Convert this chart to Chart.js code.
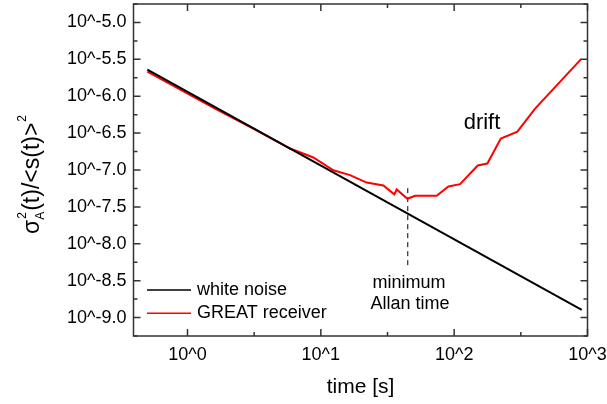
<!DOCTYPE html>
<html>
<head>
<meta charset="utf-8">
<script src="https://cdn.jsdelivr.net/npm/chart.js@4/dist/chart.umd.min.js"></script>
<style>
  html, body { margin: 0; background: #fff; }
</style>
</head>
<body>
<canvas id="chart" width="607" height="404"></canvas>
<script>
// log10(time / s) and log10(sigma_A^2 / <s>^2)
const noiseLogT = [-0.301, 2.957];
const noiseLogY = [-5.640, -8.897];

const greatLogT = [-0.301, 0.2, 0.5, 0.769, 0.944, 1.094, 1.219, 1.344, 1.469, 1.551, 1.569, 1.649, 1.707, 1.869, 1.957, 2.044, 2.177, 2.249, 2.350, 2.474, 2.607, 2.952];
const greatLogY = [-5.665, -6.160, -6.445, -6.709, -6.830, -7.003, -7.070, -7.170, -7.210, -7.330, -7.264, -7.390, -7.350, -7.350, -7.223, -7.192, -6.939, -6.912, -6.574, -6.479, -6.168, -5.497];

// minimum Allan time marker
const minLogT = [1.652, 1.652];
const minLogY = [-7.246, -8.329];

const xTicks = [0, 1, 2, 3];
const xMinor = [0.5, 1.5, 2.5];
const yTicks = [-9.0, -8.5, -8.0, -7.5, -7.0, -6.5, -6.0, -5.5, -5.0];
const yMinor = [-9.25, -8.75, -8.25, -7.75, -7.25, -6.75, -6.25, -5.75, -5.25, -4.75];

const pts = (xs, ys) => xs.map((v, i) => ({ x: v, y: ys[i] }));
const FONT = 'Liberation Sans, Arial, sans-serif';

const frame = {
    id: 'frame',
    afterDraw(chart) {
        const { ctx, chartArea: a, scales: { x, y } } = chart;
        ctx.save();
        ctx.strokeStyle = '#333';
        ctx.lineWidth = 1.5;
        ctx.strokeRect(a.left, a.top, a.right - a.left, a.bottom - a.top);
        ctx.beginPath();
        const xt = (v, len) => {
            const px = x.getPixelForValue(v);
            ctx.moveTo(px, a.bottom); ctx.lineTo(px, a.bottom - len);
            ctx.moveTo(px, a.top); ctx.lineTo(px, a.top + len);
        };
        const yt = (v, len) => {
            const py = y.getPixelForValue(v);
            ctx.moveTo(a.left, py); ctx.lineTo(a.left + len, py);
            ctx.moveTo(a.right, py); ctx.lineTo(a.right - len, py);
        };
        xTicks.forEach(v => xt(v, 7));
        xMinor.forEach(v => xt(v, 4));
        yTicks.forEach(v => yt(v, 7));
        yMinor.forEach(v => yt(v, 4));
        ctx.stroke();

        // legend
        const legend = chart.data.datasets.filter(d => d.label);
        legend.forEach((d, i) => {
            const ly = 290 + i * 23.3;
            ctx.strokeStyle = d.borderColor; ctx.lineWidth = 1.5;
            ctx.beginPath(); ctx.moveTo(147, ly); ctx.lineTo(191, ly); ctx.stroke();
            ctx.fillStyle = '#000'; ctx.font = '18px ' + FONT;
            ctx.textBaseline = 'middle'; ctx.textAlign = 'left';
            ctx.fillText(d.label, 197, ly);
        });

        // annotations
        ctx.fillStyle = '#000'; ctx.textAlign = 'center'; ctx.textBaseline = 'middle';
        ctx.font = '18px ' + FONT;
        ctx.fillText('minimum', 409, 283);
        ctx.fillText('Allan time', 410, 304);
        ctx.font = '22px ' + FONT;
        ctx.fillText('drift', 482, 123);

        // y title: sigma^2_A(t)/<s(t)>^2
        ctx.translate(39, 234);
        ctx.rotate(-Math.PI / 2);
        ctx.textAlign = 'left'; ctx.textBaseline = 'alphabetic';
        ctx.font = '23px ' + FONT;
        ctx.fillText('σ', 0, 0);
        let w = ctx.measureText('σ').width;
        ctx.font = '12px ' + FONT;
        ctx.fillText('2', w + 1, -13);
        ctx.fillText('A', w, 5);
        w += ctx.measureText('A').width + 1;
        ctx.font = '23px ' + FONT;
        ctx.fillText('(t)/<s(t)>', w, 0);
        w += ctx.measureText('(t)/<s(t)>').width;
        ctx.font = '12px ' + FONT;
        ctx.fillText('2', w + 1, -13);
        ctx.restore();
    }
};

new Chart(document.getElementById('chart'), {
    type: 'line',
    data: {
        datasets: [
            { label: 'white noise', data: pts(noiseLogT, noiseLogY), borderColor: '#000', borderWidth: 2 },
            { label: 'GREAT receiver', data: pts(greatLogT, greatLogY), borderColor: '#ff0000', borderWidth: 2 },
            { label: '', data: pts(minLogT, minLogY), borderColor: '#000', borderWidth: 1, borderDash: [5, 4] }
        ]
    },
    options: {
        responsive: false,
        animation: false,
        layout: { padding: { top: 4, right: 19.5, left: 0, bottom: 0 } },
        elements: { point: { radius: 0 }, line: { tension: 0 } },
        plugins: { legend: { display: false }, tooltip: { enabled: false } },
        scales: {
            x: {
                type: 'linear', min: -0.405, max: 3.0,
                grid: { display: false, drawTicks: false },
                border: { display: false },
                afterBuildTicks: s => { s.ticks = xTicks.map(v => ({ value: v })); },
                afterFit: s => { s.height = 68; s.paddingLeft = 0; s.paddingRight = 0; },
                ticks: { color: '#000', padding: 8, font: { size: 18, family: FONT }, callback: v => '10^' + v, maxRotation: 0, autoSkip: false },
                title: { display: true, text: 'time [s]', color: '#000', font: { size: 21, family: FONT }, padding: { top: 6 } }
            },
            y: {
                type: 'linear', min: -9.25, max: -4.75,
                grid: { display: false, drawTicks: false },
                border: { display: false },
                afterBuildTicks: s => { s.ticks = yTicks.map(v => ({ value: v })); },
                afterFit: s => { s.width = 133.5; s.paddingTop = 0; s.paddingBottom = 0; },
                ticks: { color: '#000', padding: 7, font: { size: 18, family: FONT }, callback: v => '10^' + v.toFixed(1), autoSkip: false }
            }
        }
    },
    plugins: [frame]
});
</script>
</body>
</html>
